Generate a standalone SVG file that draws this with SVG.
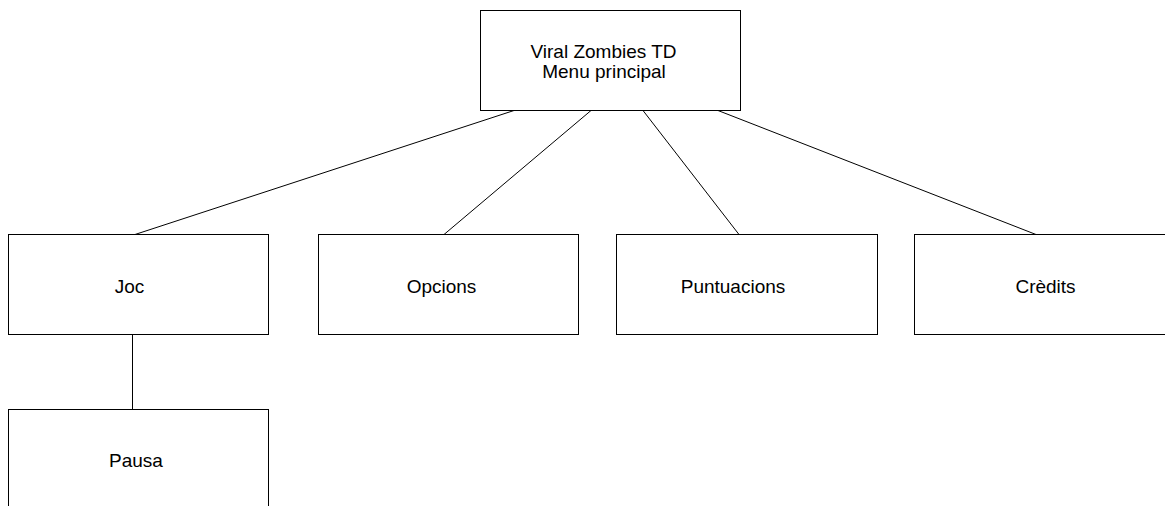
<svg xmlns="http://www.w3.org/2000/svg" width="1165" height="506" viewBox="0 0 1165 506">
<style>
.box{fill:#fff;stroke:#000;stroke-width:1}
.lbl{font-family:"Liberation Sans",Arial,sans-serif;font-size:19px;fill:#000;text-anchor:middle}
.edge{stroke:#000;stroke-width:1;fill:none}
</style>
<rect width="1165" height="506" fill="#fff"/>
<g id="connectors">
<line class="edge" x1="514" y1="110.5" x2="135" y2="234.5"/>
<line class="edge" x1="591" y1="110.5" x2="444" y2="234.5"/>
<line class="edge" x1="643" y1="110.5" x2="739" y2="234.5"/>
<line class="edge" x1="718" y1="110.5" x2="1036" y2="234.5"/>
<line class="edge" x1="132.5" y1="334.5" x2="132.5" y2="409.5"/>
</g>
<g id="node-menu">
<rect class="box" x="480.5" y="10.5" width="260" height="100"/>
<text class="lbl" x="603.5" y="58">Viral Zombies TD</text>
<text class="lbl" x="604" y="78">Menu principal</text>
</g>
<g id="node-joc">
<rect class="box" x="8.5" y="234.5" width="260" height="100"/>
<text class="lbl" x="129.5" y="293">Joc</text>
</g>
<g id="node-opcions">
<rect class="box" x="318.5" y="234.5" width="260" height="100"/>
<text class="lbl" x="441.5" y="293">Opcions</text>
</g>
<g id="node-puntuacions">
<rect class="box" x="616.5" y="234.5" width="261" height="100"/>
<text class="lbl" x="733" y="293">Puntuacions</text>
</g>
<g id="node-credits">
<rect class="box" x="914.5" y="234.5" width="270" height="100"/>
<text class="lbl" x="1045.5" y="293">Crèdits</text>
</g>
<g id="node-pausa">
<rect class="box" x="8.5" y="409.5" width="260" height="120"/>
<text class="lbl" x="136" y="467">Pausa</text>
</g>
</svg>
